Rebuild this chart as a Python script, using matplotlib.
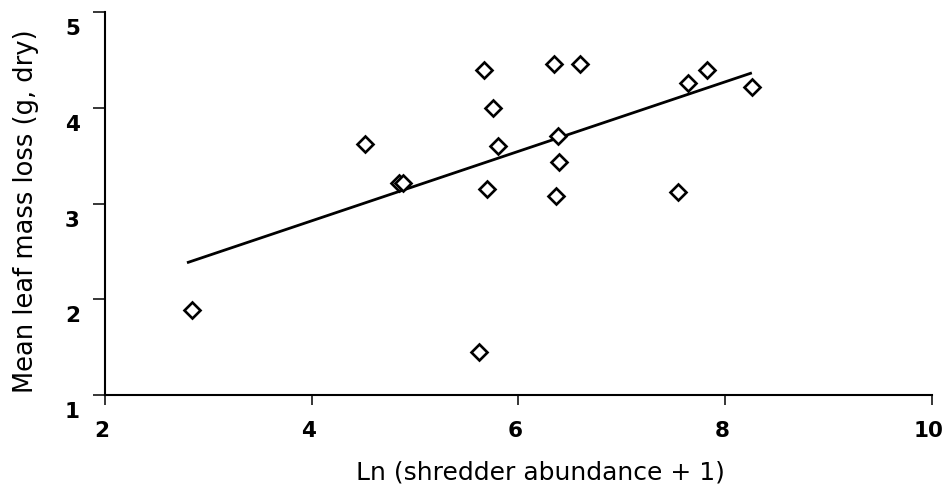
import matplotlib
matplotlib.use("Agg")
import matplotlib.pyplot as plt
from matplotlib.transforms import ScaledTranslation

# Shredder abundance (log scale) vs. mean leaf mass loss per site
ln_shredders = [2.84, 4.52, 4.84, 4.88, 5.67, 5.75, 5.80, 5.70, 5.62,
                6.34, 6.60, 6.38, 6.39, 6.36, 7.54, 7.64, 7.82, 8.26]
mass_loss = [1.89, 3.62, 3.21, 3.21, 4.39, 4.00, 3.60, 3.15, 1.45,
             4.46, 4.46, 3.70, 3.43, 3.08, 3.12, 4.26, 4.39, 4.22]

# Least-squares fit line, drawn over the range of the data
fit_x = [2.806, 8.245]
fit_y = [2.386, 4.360]

x_ticks = [2, 4, 6, 8, 10]
y_ticks = [1, 2, 3, 4, 5]

plt.rcParams['font.family'] = ['DejaVu Sans']

fig = plt.figure(figsize=(9.45, 4.87), dpi=100)
ax = fig.add_axes([0.1111, 0.1889, 0.8751, 0.7864])

ax.plot(ln_shredders, mass_loss, linestyle='none', marker='D', markersize=8.6,
        markerfacecolor='white', markeredgecolor='black', markeredgewidth=1.9,
        zorder=3)
ax.plot(fit_x, fit_y, color='black', linewidth=2.0, zorder=2)

ax.set_xlim(2, 10)
ax.set_ylim(1, 5)
ax.set_xticks(x_ticks)
ax.set_yticks(y_ticks)

for side in ['top', 'right']:
    ax.spines[side].set_visible(False)
for side in ['left', 'bottom']:
    ax.spines[side].set_linewidth(1.5)

ax.tick_params(axis='x', direction='out', length=7, width=1.1, pad=12)
ax.tick_params(axis='y', direction='out', length=9, width=1.1, pad=9)
for lbl in ax.get_xticklabels() + ax.get_yticklabels():
    lbl.set_fontweight('bold')
    lbl.set_fontsize(15.5)

# y tick labels sit a little below their ticks, x labels a touch left
yshift = ScaledTranslation(0, -0.15, fig.dpi_scale_trans)
for lbl in ax.get_yticklabels():
    lbl.set_transform(lbl.get_transform() + yshift)
xshift = ScaledTranslation(-0.03, 0, fig.dpi_scale_trans)
for lbl in ax.get_xticklabels():
    lbl.set_transform(lbl.get_transform() + xshift)

ax.set_xlabel('Ln (shredder abundance + 1)', fontsize=18)
ax.set_ylabel('Mean leaf mass loss (g, dry)', fontsize=18.5)
ax.xaxis.set_label_coords(0.527, -0.172)
ax.yaxis.set_label_coords(-0.080, 0.479)

fig.savefig('out.png', dpi=100)
